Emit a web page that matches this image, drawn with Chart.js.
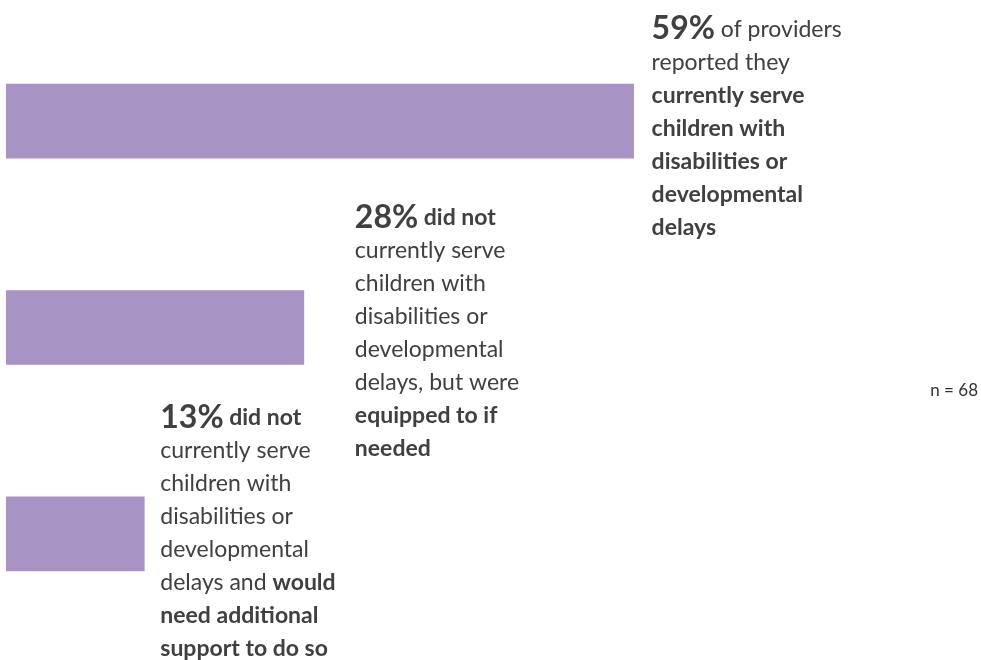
<!DOCTYPE html>
<html>
<head>
<meta charset="utf-8">
<script src="https://cdn.jsdelivr.net/npm/chart.js@4"></script>
<style>
  html, body { margin: 0; padding: 0; background: #fff; }
  #wrap { width: 981px; height: 660px; position: relative; }
</style>
</head>
<body>
<div id="wrap"><canvas id="serveChart"></canvas></div>
<script>
// categories and shares of providers (%)
var categories = ['Currently serve', 'Equipped if needed', 'Would need support'];
var shares = [59, 28, 13];
var sampleNote = 'n = 68';

// callout text for each bar: lines of [text, bold] pieces; first piece of line 1 is the big percentage
var callouts = [
  [
    [[shares[0] + '%', 'big'], [' of providers', false]],
    [['reported they', false]],
    [['currently serve', true]],
    [['children with', true]],
    [['disabilities or', true]],
    [['developmental', true]],
    [['delays', true]]
  ],
  [
    [[shares[1] + '%', 'big'], [' did not', true]],
    [['currently serve', false]],
    [['children with', false]],
    [['disabilities or', false]],
    [['developmental', false]],
    [['delays, but were', false]],
    [['equipped to if', true]],
    [['needed', true]]
  ],
  [
    [[shares[2] + '%', 'big'], [' did not', true]],
    [['currently serve', false]],
    [['children with', false]],
    [['disabilities or', false]],
    [['developmental', false]],
    [['delays and ', false], ['would', true]],
    [['need additional', true]],
    [['support to do so', true]]
  ]
];

// where each callout sits relative to the end / top of its bar
var calloutOffsets = [
  { dx: 18, dy: -55 },
  { dx: 51, dy: -73 },
  { dx: 16, dy: -79 }
];

var FONT = 'Lato, "Open Sans", sans-serif';
var TEXT_COLOR = '#404040';
var LINE_H = 33;

var calloutPlugin = {
  id: 'callouts',
  afterDatasetsDraw: function (chart) {
    var ctx = chart.ctx;
    var meta = chart.getDatasetMeta(0);
    ctx.save();
    ctx.fillStyle = TEXT_COLOR;
    ctx.textBaseline = 'middle';
    ctx.textAlign = 'left';
    meta.data.forEach(function (bar, i) {
      var top = bar.y - bar.height / 2;
      var x0 = bar.x + calloutOffsets[i].dx;
      var y = top + calloutOffsets[i].dy;
      callouts[i].forEach(function (line) {
        var x = x0;
        line.forEach(function (seg) {
          if (seg[1] === 'big') ctx.font = 'bold 32px ' + FONT;
          else ctx.font = (seg[1] ? 'bold ' : '') + '23px ' + FONT;
          ctx.fillText(seg[0], x, y);
          x += ctx.measureText(seg[0]).width;
        });
        y += LINE_H;
      });
    });
    // sample size note
    ctx.font = '17px ' + FONT;
    ctx.fillStyle = '#333';
    ctx.textAlign = 'right';
    ctx.fillText(sampleNote, 978, 391);
    ctx.restore();
  }
};

new Chart(document.getElementById('serveChart'), {
  type: 'bar',
  data: {
    labels: categories,
    datasets: [{
      data: shares,
      backgroundColor: '#A794C5',
      borderWidth: 0,
      barThickness: 74
    }]
  },
  options: {
    indexAxis: 'y',
    responsive: true,
    maintainAspectRatio: false,
    animation: false,
    layout: { padding: { left: 6, right: 124, top: 18, bottom: 23 } },
    scales: {
      x: { min: 0, max: 80, display: false },
      y: { display: false }
    },
    plugins: {
      legend: { display: false },
      tooltip: { enabled: false }
    }
  },
  plugins: [calloutPlugin]
});
</script>
</body>
</html>
